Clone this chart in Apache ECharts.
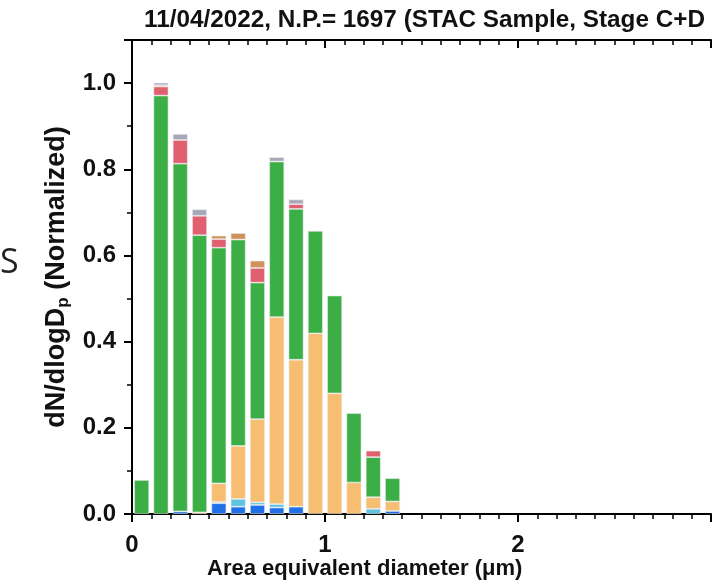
<!DOCTYPE html>
<html>
<head>
<meta charset="utf-8">
<script src="https://cdn.jsdelivr.net/npm/echarts@6/dist/echarts.min.js"></script>
<style>
html,body{margin:0;padding:0;background:#fff;overflow:hidden;}
#c{width:714px;height:585px;}
</style>
</head>
<body>
<div id="c"></div>
<script>
// Bin centres (µm), 0.1 µm wide bins covering the 0–3 µm axis
var binCenters = [0.05, 0.15, 0.25, 0.35, 0.45, 0.55, 0.65, 0.75, 0.85, 0.95, 1.05, 1.15, 1.25, 1.35,
                  1.45, 1.55, 1.65, 1.75, 1.85, 1.95, 2.05, 2.15, 2.25, 2.35, 2.45, 2.55, 2.65, 2.75, 2.85, 2.95];
// Stacked components, bottom to top (bins beyond 1.4 µm are empty)
var blueVals      = [0, 0, 0.006, 0, 0.025, 0.017, 0.021, 0.015, 0.017, 0, 0, 0, 0, 0.007];
var lightBlueVals = [0, 0, 0, 0, 0.003, 0.018, 0.006, 0.008, 0, 0, 0, 0, 0.012, 0];
var orangeVals    = [0, 0, 0, 0.004, 0.043, 0.123, 0.193, 0.434, 0.341, 0.419, 0.280, 0.073, 0.027, 0.022];
var greenVals     = [0.079, 0.971, 0.807, 0.643, 0.547, 0.479, 0.317, 0.361, 0.350, 0.238, 0.227, 0.161, 0.093, 0.054];
var redVals       = [0, 0.021, 0.055, 0.045, 0.020, 0, 0.034, 0, 0.011, 0, 0, 0, 0.015, 0];
var brownVals     = [0, 0.003, 0, 0, 0.008, 0.015, 0.017, 0, 0, 0, 0, 0, 0, 0];
var grayVals      = [0, 0.006, 0.014, 0.015, 0, 0, 0, 0.010, 0.011, 0, 0, 0, 0, 0];
var xTickLabels = ['0', '1', '2'];
var titleText = '11/04/2022, N.P.= 1697 (STAC Sample, Stage C+D';

var FONT = 'Arial, "Liberation Sans", sans-serif';
var layers = [
  {name: 'blue', vals: blueVals, color: '#1f6fe8'},
  {name: 'lightblue', vals: lightBlueVals, color: '#5cc3e0'},
  {name: 'orange', vals: orangeVals, color: '#f7bd70'},
  {name: 'green', vals: greenVals, color: '#3cae46'},
  {name: 'red', vals: redVals, color: '#e0606f'},
  {name: 'brown', vals: brownVals, color: '#d0925a'},
  {name: 'gray', vals: grayVals, color: '#a6a8b8'}
];

var series = layers.map(function (l) {
  return {
    name: l.name,
    type: 'bar',
    stack: 'total',
    barWidth: 15,
    xAxisIndex: 2,
    itemStyle: {color: l.color, borderColor: 'rgba(236,236,236,0.7)', borderWidth: 0.8},
    emphasis: {disabled: true},
    data: l.vals.map(function (v) { return v > 0 ? v : '-'; })
  };
});

var tickCommon = {
  type: 'value', min: 0, max: 3, interval: 1,
  axisLine: {show: true, onZero: false, lineStyle: {color: '#000', width: 2}},
  minorTick: {show: true, splitNumber: 10, length: 5, lineStyle: {color: '#000', width: 1.5}},
  splitLine: {show: false}
};

var chart = echarts.init(document.getElementById('c'), null, {renderer: 'canvas'});
chart.setOption({
  animation: false,
  backgroundColor: '#fff',
  title: {
    text: titleText,
    left: 139, top: 3,
    textStyle: {fontFamily: FONT, fontSize: 24.3, fontWeight: 'bold', color: '#111'}
  },
  grid: {left: 132, right: -8, top: 40, bottom: 71, containLabel: false},
  xAxis: [
    Object.assign({}, tickCommon, {
      position: 'bottom',
      axisTick: {show: true, inside: false, length: 8, lineStyle: {color: '#000', width: 2}},
      axisLabel: {
        margin: 19, fontFamily: FONT, fontSize: 24, fontWeight: 'bold', color: '#111',
        formatter: function (v) { var i = Math.round(v); return (i >= 0 && i < xTickLabels.length) ? xTickLabels[i] : ''; }
      }
    }),
    Object.assign({}, tickCommon, {
      position: 'top',
      axisTick: {show: true, inside: true, length: 8, lineStyle: {color: '#000', width: 2}},
      axisLabel: {show: false}
    }),
    {
      type: 'category', position: 'bottom', show: false, boundaryGap: true,
      data: binCenters.map(function (c) { return c.toFixed(2); })
    }
  ],
  yAxis: {
    type: 'value', min: 0, max: 1.1, interval: 0.2,
    axisLine: {show: true, lineStyle: {color: '#000', width: 2}},
    axisTick: {show: true, inside: false, length: 8, lineStyle: {color: '#000', width: 2}},
    minorTick: {show: true, splitNumber: 2, length: 5, lineStyle: {color: '#000', width: 1.5}},
    splitLine: {show: false},
    axisLabel: {
      margin: 16, fontFamily: FONT, fontSize: 24, fontWeight: 'bold', color: '#111',
      formatter: function (v) { return v > 1.05 ? '' : v.toFixed(1); }
    },
    name: '{a|dN/dlogD}{s|p}{a| (Normalized)}',
    nameLocation: 'middle',
    nameGap: 60,
    nameRotate: 90,
    nameTextStyle: {
      rich: {
        a: {fontFamily: FONT, fontSize: 27, fontWeight: 'bold', color: '#111', lineHeight: 30},
        s: {fontFamily: FONT, fontSize: 17, fontWeight: 'bold', color: '#111', lineHeight: 30, padding: [14, 0, 0, 0]}
      }
    }
  },
  graphic: [
    {type: 'text', left: 207, top: 558,
     style: {text: 'Area equivalent diameter (\u03bcm)', fontFamily: FONT, fontSize: 22, fontWeight: 'bold', fill: '#111'}},
    {type: 'text', left: 0, top: 246,
     style: {text: 'S', fontFamily: '"Open Sans", sans-serif', fontSize: 34, fill: '#222'}}
  ],
  series: series
});
</script>
</body>
</html>
